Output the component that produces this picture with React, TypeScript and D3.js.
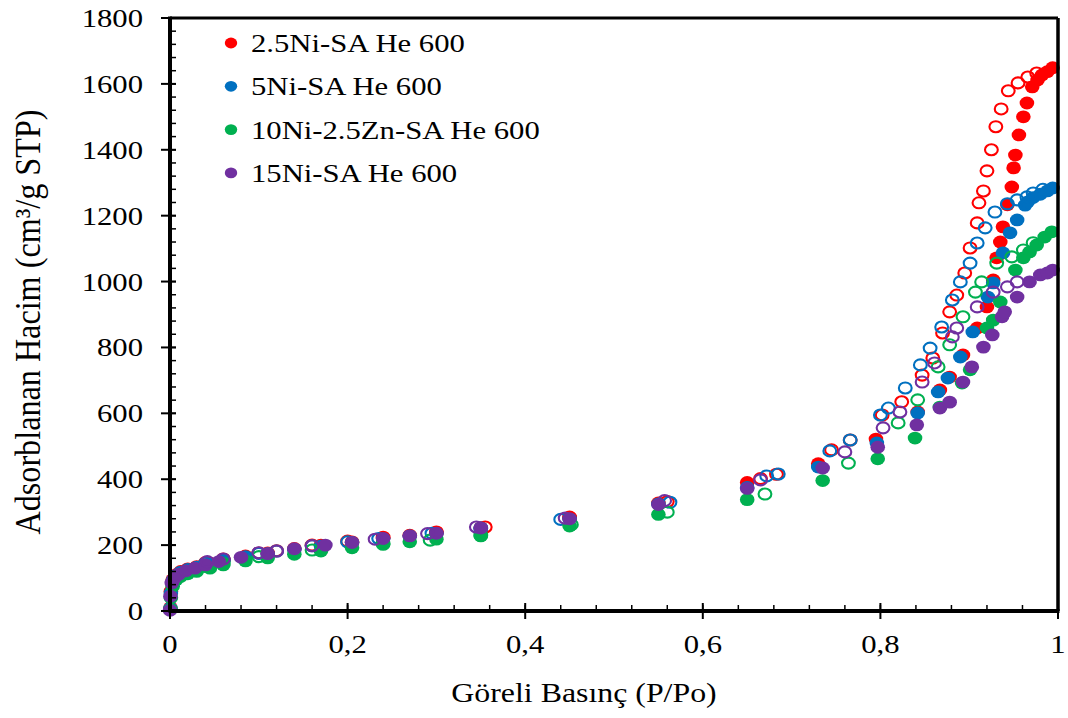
import React from 'react';
import * as d3 from 'd3';

type Pt = [number, number];

const seriesNames = ['2.5Ni-SA He 600', '5Ni-SA He 600', '10Ni-2.5Zn-SA He 600', '15Ni-SA He 600'];
const seriesColors = ['#FF0000', '#0070C0', '#00B050', '#7030A0'];

// adsorption (filled) and desorption (open) branches, [P/Po, volume]
const ni25Ads: Pt[] = [
  [0.0005, 10], [0.001, 60], [0.003, 95], [0.007, 110], [0.012, 120], [0.02, 128], [0.03, 135], [0.045, 145],
  [0.06, 155], [0.085, 167], [0.11, 176], [0.14, 190], [0.17, 200], [0.205, 210], [0.24, 222], [0.27, 230],
  [0.3, 238], [0.35, 253], [0.45, 283], [0.55, 328], [0.65, 390], [0.73, 447], [0.795, 522], [0.842, 604],
  [0.867, 671], [0.878, 710], [0.893, 777], [0.909, 859], [0.92, 923], [0.927, 1005], [0.931, 1072], [0.935, 1120],
  [0.938, 1166], [0.943, 1233], [0.948, 1287], [0.95, 1345], [0.952, 1384], [0.956, 1445], [0.961, 1500],
  [0.965, 1542], [0.971, 1591], [0.977, 1612], [0.982, 1627], [0.988, 1637], [0.994, 1649],
];
const ni25Des: Pt[] = [
  [0.976, 1633], [0.966, 1621], [0.955, 1603], [0.944, 1579], [0.936, 1524], [0.93, 1470], [0.925, 1400],
  [0.92, 1336], [0.916, 1275], [0.911, 1239], [0.909, 1178], [0.901, 1102], [0.895, 1026], [0.886, 959],
  [0.878, 908], [0.87, 844], [0.859, 768], [0.847, 716], [0.824, 635], [0.802, 595], [0.766, 519], [0.745, 489],
  [0.683, 415], [0.665, 402], [0.56, 332], [0.45, 285], [0.355, 255], [0.3, 240], [0.24, 224], [0.2, 212],
  [0.16, 200], [0.12, 183], [0.1, 176], [0.06, 158], [0.04, 147],
];
const ni5Ads: Pt[] = [
  [0.0005, 8], [0.001, 55], [0.003, 92], [0.007, 108], [0.012, 118], [0.02, 126], [0.03, 133], [0.045, 143],
  [0.06, 152], [0.085, 165], [0.11, 174], [0.14, 187], [0.17, 197], [0.205, 208], [0.24, 219], [0.27, 228],
  [0.3, 235], [0.35, 250], [0.45, 279], [0.55, 325], [0.65, 375], [0.73, 437], [0.796, 510], [0.842, 601],
  [0.865, 665], [0.876, 707], [0.89, 771], [0.904, 847], [0.921, 953], [0.927, 996], [0.938, 1087],
  [0.946, 1148], [0.954, 1187], [0.963, 1232], [0.966, 1242], [0.972, 1255], [0.98, 1265], [0.988, 1275],
  [0.994, 1284],
];
const ni5Des: Pt[] = [
  [0.983, 1280], [0.972, 1269], [0.965, 1257], [0.954, 1248], [0.943, 1236], [0.929, 1211], [0.918, 1163],
  [0.909, 1117], [0.901, 1056], [0.89, 999], [0.881, 944], [0.869, 862], [0.856, 798], [0.845, 747],
  [0.828, 677], [0.809, 616], [0.8, 595], [0.766, 519], [0.743, 486], [0.685, 416], [0.672, 410], [0.563, 330],
  [0.44, 278], [0.35, 252], [0.295, 236], [0.235, 220], [0.2, 210], [0.16, 198], [0.12, 182], [0.1, 175],
  [0.06, 156], [0.04, 145],
];
const ni10Zn25Ads: Pt[] = [
  [0.0005, 5], [0.001, 40], [0.003, 75], [0.007, 95], [0.012, 105], [0.02, 113], [0.03, 120], [0.045, 130],
  [0.06, 140], [0.085, 152], [0.11, 161], [0.14, 172], [0.17, 182], [0.205, 192], [0.24, 202], [0.27, 210],
  [0.3, 218], [0.35, 228], [0.45, 258], [0.55, 293], [0.65, 338], [0.735, 396], [0.797, 462], [0.839, 525],
  [0.867, 619], [0.892, 692], [0.901, 732], [0.92, 859], [0.927, 883], [0.935, 938], [0.952, 1035],
  [0.961, 1072], [0.968, 1090], [0.976, 1111], [0.985, 1135], [0.993, 1151],
];
const ni10Zn25Des: Pt[] = [
  [0.972, 1118], [0.961, 1096], [0.948, 1075], [0.931, 1056], [0.914, 999], [0.907, 968], [0.893, 893],
  [0.878, 808], [0.865, 741], [0.842, 641], [0.82, 571], [0.764, 449], [0.67, 355], [0.56, 300], [0.452, 262],
  [0.35, 230], [0.293, 215], [0.24, 205], [0.16, 185], [0.1, 165], [0.06, 145], [0.04, 135],
];
const ni15Ads: Pt[] = [
  [0, 2], [0.0005, 45], [0.002, 85], [0.005, 100], [0.01, 112], [0.018, 122], [0.028, 130], [0.04, 140],
  [0.055, 150], [0.08, 163], [0.11, 174], [0.14, 189], [0.175, 200], [0.205, 208], [0.24, 220], [0.27, 228],
  [0.3, 236], [0.35, 252], [0.45, 280], [0.55, 323], [0.65, 372], [0.735, 434], [0.797, 497], [0.841, 565],
  [0.867, 616], [0.878, 634], [0.893, 695], [0.903, 741], [0.916, 801], [0.926, 838], [0.937, 893],
  [0.94, 908], [0.954, 953], [0.968, 999], [0.98, 1020], [0.988, 1026], [0.994, 1035],
];
const ni15Des: Pt[] = [
  [0.954, 999], [0.943, 984], [0.927, 968], [0.909, 923], [0.886, 859], [0.881, 832], [0.861, 753],
  [0.847, 695], [0.822, 604], [0.803, 556], [0.76, 483], [0.665, 398], [0.557, 335], [0.445, 282],
  [0.345, 255], [0.29, 235], [0.231, 218], [0.16, 198], [0.12, 182], [0.1, 177], [0.06, 158], [0.042, 150],
];

const adsBranches = [ni25Ads, ni5Ads, ni10Zn25Ads, ni15Ads];
const desBranches = [ni25Des, ni5Des, ni10Zn25Des, ni15Des];

const xTicks = [0, 0.2, 0.4, 0.6, 0.8, 1];
const xTickLabels = ['0', '0,2', '0,4', '0,6', '0,8', '1'];
const yTicks = [0, 200, 400, 600, 800, 1000, 1200, 1400, 1600, 1800];

const FONT = "'Liberation Serif', 'Times New Roman', serif";
const SX = 1.18;

function Txt(props: { x: number; y: number; anchor?: string; size: number; rot?: boolean; len?: number; children: any }) {
  const { x, y, anchor, size, rot, len, children } = props;
  return (
    <text
      transform={`translate(${x},${y}) scale(${SX},1)${rot ? ' rotate(-90)' : ''}`}
      textAnchor={anchor || 'start'}
      fontSize={size}
      fontFamily={FONT}
      fill="#000"
      {...(len ? { textLength: len, lengthAdjust: 'spacingAndGlyphs' } : {})}
    >
      {children}
    </text>
  );
}

export default function App() {
  const W = 1068;
  const H = 718;
  const x = d3.scaleLinear().domain([0, 1]).range([170, 1058]);
  const y = d3.scaleLinear().domain([0, 1800]).range([611, 18]);
  const xMinor = d3.range(0, 1.0001, 0.04);
  const yMinor = d3.range(0, 1800.1, 40);

  return (
    <svg width={W} height={H} style={{ position: 'absolute', left: 0, top: 0, background: '#fff' }}>
      <rect x={0} y={0} width={W} height={H} fill="#fff" />
      {/* markers */}
      {seriesColors.map((c, i) => (
        <g key={i}>
          {adsBranches[i].map((d, j) => (
            <ellipse key={'a' + j} cx={x(d[0])} cy={y(d[1])} rx={7.3} ry={6.4} fill={c} />
          ))}
          {desBranches[i].map((d, j) => (
            <ellipse key={'d' + j} cx={x(d[0])} cy={y(d[1])} rx={6.4} ry={5.5} fill="none" stroke={c} strokeWidth={2.1} />
          ))}
        </g>
      ))}
      {/* frame */}
      <line x1={x(0)} x2={x(1)} y1={y(1800)} y2={y(1800)} stroke="#000" strokeWidth={3} />
      <line x1={x(1)} x2={x(1)} y1={y(0)} y2={y(1800)} stroke="#000" strokeWidth={3.5} />
      {/* minor ticks */}
      {xMinor.map((t, i) => (
        <line key={'xm' + i} x1={x(t)} x2={x(t)} y1={y(0)} y2={y(0) - 6} stroke="#000" strokeWidth={1.5} />
      ))}
      {yMinor.map((t, i) => (
        <line key={'ym' + i} x1={x(0)} x2={x(0) + 6} y1={y(t)} y2={y(t)} stroke="#000" strokeWidth={1.5} />
      ))}
      {/* major ticks */}
      {xTicks.map((t, i) => (
        <line key={'xt' + i} x1={x(t)} x2={x(t)} y1={y(0) - 8} y2={y(0) + 8} stroke="#000" strokeWidth={2} />
      ))}
      {yTicks.map((t, i) => (
        <line key={'yt' + i} x1={x(0) - 9} x2={x(0) + 6} y1={y(t)} y2={y(t)} stroke="#000" strokeWidth={2} />
      ))}
      {/* axes */}
      <line x1={x(0)} x2={x(1) + 1.5} y1={y(0)} y2={y(0)} stroke="#000" strokeWidth={4} />
      <line x1={x(0)} x2={x(0)} y1={y(0) + 1.5} y2={y(1800) - 1.5} stroke="#000" strokeWidth={4} />
      {/* tick labels */}
      {xTicks.map((t, i) => (
        <Txt key={'xl' + i} x={x(t)} y={653} anchor="middle" size={26}>{xTickLabels[i]}</Txt>
      ))}
      {yTicks.map((t, i) => (
        <Txt key={'yl' + i} x={143} y={y(t) + 9} anchor="end" size={26}>{String(t)}</Txt>
      ))}
      {/* axis titles */}
      <Txt x={584} y={702} anchor="middle" size={27}>Göreli Basınç (P/Po)</Txt>
      <Txt x={40} y={322} anchor="middle" size={30} rot len={425}>Adsorblanan Hacim (cm³/g STP)</Txt>
      {/* legend */}
      {seriesNames.map((n, i) => (
        <g key={'lg' + i}>
          <ellipse cx={231} cy={43 + i * 43.3} rx={6.2} ry={5.4} fill={seriesColors[i]} />
          <Txt x={251} y={52 + i * 43.3} size={26}>{n}</Txt>
        </g>
      ))}
    </svg>
  );
}
